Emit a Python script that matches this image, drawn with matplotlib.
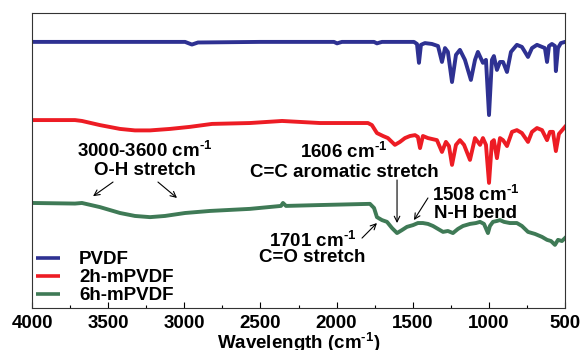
import matplotlib
matplotlib.use('Agg')
import matplotlib.pyplot as plt

plt.rcParams['font.family'] = ['Liberation Sans', 'DejaVu Sans']
plt.rcParams['font.weight'] = 'bold'
plt.rcParams['axes.labelweight'] = 'bold'
plt.rcParams['mathtext.fontset'] = 'custom'
plt.rcParams['mathtext.rm'] = 'Liberation Sans:bold'
plt.rcParams['mathtext.bf'] = 'Liberation Sans:bold'
plt.rcParams['mathtext.default'] = 'bf'

# spectra, offset transmittance (a.u.) vs wavenumber (cm-1)
pvdf_wn = [4000, 3225, 2995, 2950, 2910, 2503, 2017, 1997, 1965, 1754, 1735, 1702,
           1492, 1472, 1459, 1446, 1420, 1374, 1334, 1308, 1288, 1269, 1242, 1216,
           1190, 1157, 1118, 1091, 1072, 1039, 1019, 999, 980, 967, 947, 927, 907,
           881, 855, 816, 783, 743, 717, 684, 651, 632, 618, 605, 586, 566, 560,
           546, 527, 500]
pvdf_t = [90.2, 90.2, 90.2, 89.3, 90.0, 90.2, 90.2, 89.7, 90.2, 90.2, 89.7, 90.2,
          90.2, 89.5, 83.1, 89.2, 89.8, 89.5, 88.8, 83.4, 88.1, 86.8, 76.6, 85.8,
          87.5, 84.1, 77.3, 84.1, 86.8, 83.1, 84.1, 65.4, 84.1, 85.4, 80.7, 83.4, 83.4,
          80.0, 86.8, 89.2, 88.5, 85.1, 88.1, 89.2, 88.5, 88.1, 83.4, 88.8, 89.5, 88.8, 80.3,
          88.1, 89.8, 90.2]

m2_wn = [4000, 3718, 3672, 3554, 3422, 3324, 3225, 3094, 2963, 2818, 2569, 2358,
         2109, 1794, 1768, 1735, 1695, 1663, 1617, 1584, 1551, 1518, 1485, 1466,
         1452, 1433, 1400, 1341, 1308, 1282, 1262, 1242, 1216, 1190, 1163, 1124,
         1091, 1058, 1039, 1019, 999, 980, 967, 947, 927, 907, 881, 848, 816, 783,
         743, 717, 684, 651, 618, 599, 579, 560, 540, 500]
m2_t = [63.7, 63.7, 63.4, 62.0, 60.7, 60.2, 60.2, 60.7, 61.4, 62.4, 62.7, 63.4,
        62.7, 62.7, 62.0, 59.3, 58.3, 57.6, 55.3, 56.3, 57.6, 58.3, 58.6, 58.0,
        54.2, 58.3, 57.6, 56.9, 52.9, 56.3, 54.9, 48.5, 55.3, 56.9, 55.3, 50.2,
        57.6, 55.3, 57.6, 55.3, 42.4, 56.3, 56.9, 50.8, 57.6, 56.9, 54.9, 59.7, 60.3, 59.3,
        56.3, 59.7, 61.0, 60.3, 56.9, 59.7, 59.7, 53.2, 59.0, 61.4]

m6_wn = [4000, 3718, 3672, 3554, 3422, 3324, 3225, 3127, 2995, 2831, 2569, 2365,
         2352, 2332, 2109, 1781, 1754, 1735, 1702, 1669, 1636, 1603, 1571, 1538,
         1498, 1466, 1433, 1400, 1367, 1334, 1301, 1269, 1236, 1203, 1170, 1124,
         1085, 1058, 1032, 1006, 993, 973, 947, 927, 901, 862, 816, 783, 743, 697,
         651, 618, 592, 566, 546, 520, 500]
m6_t = [35.6, 35.4, 35.6, 34.2, 32.2, 31.2, 30.8, 31.2, 32.2, 32.9, 33.6, 34.6,
        35.6, 34.6, 34.9, 35.3, 33.9, 30.8, 29.8, 29.2, 27.1, 25.4, 26.4, 27.5,
        28.1, 28.8, 28.8, 28.5, 27.8, 26.8, 25.8, 26.1, 25.4, 26.8, 27.8, 28.5,
        28.8, 29.2, 28.5, 25.4, 27.8, 29.2, 29.5, 29.8, 29.2, 28.8, 28.8, 27.8, 25.8, 25.1,
        24.1, 23.1, 22.7, 21.4, 23.1, 22.7, 23.7]

labels = ['PVDF', '2h-mPVDF', '6h-mPVDF']
colors = ['#2e3192', '#ed1c24', '#3f7a56']

fig = plt.figure(figsize=(5.82, 3.5), dpi=100)
ax = fig.add_axes([0.055, 0.12, 0.9158, 0.8429])

for wn, t, lab, c in zip([pvdf_wn, m2_wn, m6_wn], [pvdf_t, m2_t, m6_t], labels, colors):
    ax.plot(wn, t, color=c, lw=2.8, label=lab, solid_joinstyle='round')

ax.set_xlim(4000, 500)
ax.set_ylim(0, 100)
ax.set_xticks([4000, 3500, 3000, 2500, 2000, 1500, 1000, 500])
ax.set_xticks([3750, 3250, 2750, 2250, 1750, 1250, 750], minor=True)
ax.set_yticks([])
ax.tick_params(axis='x', which='major', direction='in', length=4, width=0.8,
               labelsize=13.5, pad=5)
ax.tick_params(axis='x', which='minor', direction='in', length=2.5, width=0.8)
for s in ax.spines.values():
    s.set_linewidth(0.8)
    s.set_color('#333333')
ax.set_xlabel(r'Wavelength (cm$^{\text{-1}}$)', fontsize=13.5, fontweight='bold',
              labelpad=-1)

# annotations
fs = 13.5
sup = r'$^{\text{-1}}$'
ax.text(3258, 53.2, '3000-3600 cm' + sup, ha='center', va='center', fontsize=fs)
ax.text(3258, 46.5, 'O-H stretch', ha='center', va='center', fontsize=fs)
ax.text(1951, 52.8, '1606 cm' + sup, ha='center', va='center', fontsize=fs)
ax.text(1951, 45.8, 'C=C aromatic stretch', ha='center', va='center', fontsize=fs)
ax.text(1085, 38.3, '1508 cm' + sup, ha='center', va='center', fontsize=fs)
ax.text(1085, 32.0, 'N-H bend', ha='center', va='center', fontsize=fs)
ax.text(2155, 22.8, '1701 cm' + sup, ha='center', va='center', fontsize=fs)
ax.text(2162, 17.0, 'C=O stretch', ha='center', va='center', fontsize=fs)

arrow = dict(arrowstyle='->', color='black', lw=0.8, shrinkA=0, shrinkB=0)
ax.annotate('', xy=(3599, 37.9), xytext=(3468, 42.7), arrowprops=arrow)
ax.annotate('', xy=(3048, 37.3), xytext=(3173, 42.7), arrowprops=arrow)
ax.annotate('', xy=(1603, 28.8), xytext=(1603, 43.4), arrowprops=arrow)
ax.annotate('', xy=(1492, 29.8), xytext=(1400, 37.3), arrowprops=arrow)
ax.annotate('', xy=(1735, 28.8), xytext=(1833, 23.7), arrowprops=arrow)

leg = ax.legend(loc='lower left', bbox_to_anchor=(0.0, 0.0), frameon=False,
                fontsize=13.5, handlelength=1.3, handletextpad=1.0,
                labelspacing=0.05, borderaxespad=0.05, borderpad=0.15)
for h in leg.get_lines():
    h.set_linewidth(2.6)
    h.set_solid_capstyle('butt')

fig.savefig('out.png', dpi=100)
